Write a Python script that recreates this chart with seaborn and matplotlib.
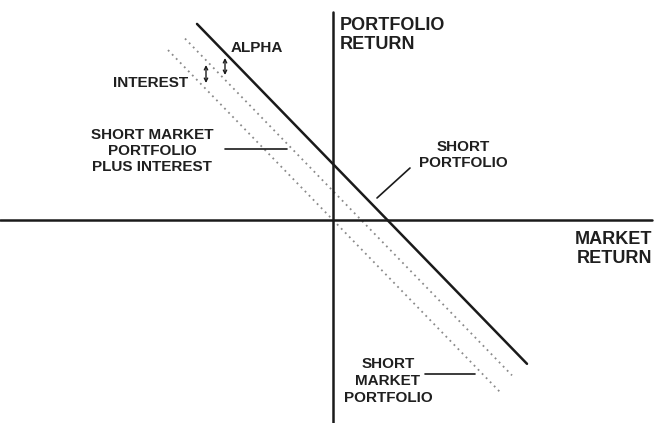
import numpy as np
import pandas as pd
import matplotlib
matplotlib.use("Agg")
import matplotlib.pyplot as plt
import seaborn as sns

# ── Data ──────────────────────────────────────────────────────────────────────
# three parallel lines with market beta of about -1 (100 px = 1 unit)
line_names = ["SHORT PORTFOLIO", "SHORT MARKET PLUS INTEREST", "SHORT MARKET"]
intercepts = [0.56, 0.29, 0.0]
slope      = -1.03
x_start    = [-1.36, -1.48, -1.65]
x_end      = [1.94, 1.79, 1.67]

# ── Plot ──────────────────────────────────────────────────────────────────────
sns.set_theme(style="white")
plt.rcParams["font.family"] = ["Liberation Sans", "DejaVu Sans"]

fig = plt.figure(figsize=(6.55, 4.23), dpi=100)
ax = fig.add_axes([0, 0, 1, 1])
ax.set_xlim(-3.33, 3.22)
ax.set_ylim(-2.03, 2.20)
ax.axis("off")

rows = []
for name, b, x0, x1 in zip(line_names, intercepts, x_start, x_end):
    for x in (x0, x1):
        rows.append({"line": name, "x": x, "y": b + slope * x})
df = pd.DataFrame(rows)

styles = {
    "SHORT PORTFOLIO": dict(color="#1a1a1a", lw=1.8, ls="-"),
    "SHORT MARKET PLUS INTEREST": dict(color="#8a8a8a", lw=1.3, ls=(0, (1, 2.2))),
    "SHORT MARKET": dict(color="#8a8a8a", lw=1.3, ls=(0, (1, 2.2))),
}
for name in line_names:
    st = styles[name]
    sns.lineplot(data=df[df["line"] == name], x="x", y="y", ax=ax,
                 color=st["color"], linewidth=st["lw"], linestyle=st["ls"],
                 legend=False)

# axes cross
ax.plot([-3.33, 3.19], [0, 0], color="#1a1a1a", lw=1.8)
ax.plot([0, 0], [-2.03, 2.08], color="#1a1a1a", lw=1.8)

txt = dict(color="#1f1f1f", fontweight="bold")
ax.text(0.07, 1.85, "PORTFOLIO\nRETURN", ha="left", va="center",
        fontsize=13, linespacing=1.17, **txt)
ax.text(3.19, -0.29, "MARKET\nRETURN", ha="right", va="center",
        fontsize=13, linespacing=1.17, **txt)

ax.text(-1.02, 1.72, "ALPHA", ha="left", va="center", fontsize=11, **txt)
ax.text(-1.45, 1.37, "INTEREST", ha="right", va="center", fontsize=11, **txt)
ax.text(-1.81, 0.69, "SHORT MARKET\nPORTFOLIO\nPLUS INTEREST", ha="center",
        va="center", multialignment="center", fontsize=11, linespacing=1.17, **txt)
ax.text(1.30, 0.65, "SHORT\nPORTFOLIO", ha="center", va="center",
        multialignment="center", fontsize=11, linespacing=1.17, **txt)
ax.text(0.55, -1.61, "SHORT\nMARKET\nPORTFOLIO", ha="center", va="center",
        multialignment="center", fontsize=11, linespacing=1.3, **txt)

# leader lines
ax.plot([-1.08, -0.46], [0.71, 0.71], color="#1a1a1a", lw=1.2)
ax.plot([0.77, 0.44], [0.52, 0.22], color="#1a1a1a", lw=1.2)
ax.plot([0.92, 1.42], [-1.54, -1.54], color="#1a1a1a", lw=1.2)

# small double arrows for interest and alpha
arrow = dict(arrowstyle="<->", color="#1a1a1a", lw=1.0, mutation_scale=6,
             shrinkA=0, shrinkB=0)
ax.annotate("", xy=(-1.27, 1.55), xytext=(-1.27, 1.37), arrowprops=arrow)
ax.annotate("", xy=(-1.08, 1.62), xytext=(-1.08, 1.45), arrowprops=arrow)

fig.savefig("out.png", dpi=100)
plt.close()
